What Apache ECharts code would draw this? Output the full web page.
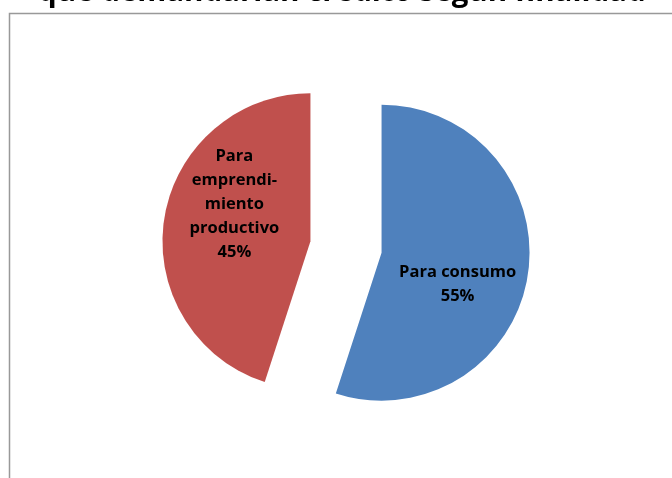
<!DOCTYPE html>
<html lang="es">
<head>
    <meta charset="UTF-8">
    <title>Crédito según finalidad</title>
    <script src="https://cdn.jsdelivr.net/npm/echarts@6/dist/echarts.min.js"></script>
    <style>
        * { margin: 0; padding: 0; }
        html, body { width: 672px; height: 478px; background: #fff; }
    </style>
</head>
<body>
<div id="main" style="width: 672px; height: 478px;"></div>
<script type="text/javascript">
    // datos
    var titulo = 'que demandarían crédito según finalidad';
    var categorias = ['Para consumo', 'Para\nemprendi-\nmiento\nproductivo'];
    var valores = [55, 45];
    var colores = ['#4F81BD', '#C0504D'];
    // desplazamiento vertical de las etiquetas como en el original
    var desplazY = [20, -25];

    var myChart = echarts.init(document.getElementById('main'));

    var datos = categorias.map(function (c, i) {
        return {
            name: c,
            value: valores[i],
            selected: true,
            itemStyle: { color: colores[i] }
        };
    });

    var option = {
        animation: false,
        title: {
            text: titulo,
            left: 38,
            top: -22.5,
            padding: 0,
            textStyle: {
                fontFamily: 'Open Sans',
                fontSize: 29.5,
                fontWeight: 'bold',
                color: '#000'
            }
        },
        graphic: [{
            type: 'polyline',
            shape: { points: [[9.5, 478], [9.5, 13.5], [672, 13.5]] },
            style: { stroke: '#999', lineWidth: 1.5, fill: null }
        }],
        series: [{
            type: 'pie',
            center: [346, 247],
            radius: 148,
            startAngle: 90,
            clockwise: true,
            selectedMode: 'multiple',
            selectedOffset: 36,
            data: datos,
            label: {
                position: 'inside',
                formatter: function (p) {
                    return p.name + '\n' + Math.round(p.percent) + '%';
                },
                fontFamily: 'Open Sans',
                fontSize: 16.5,
                fontWeight: 'bold',
                lineHeight: 24,
                color: '#000'
            },
            labelLayout: function (params) {
                return { dy: desplazY[params.dataIndex] };
            },
            labelLine: { show: false },
            emphasis: { disabled: true }
        }]
    };
    myChart.setOption(option);
</script>
</body>
</html>
